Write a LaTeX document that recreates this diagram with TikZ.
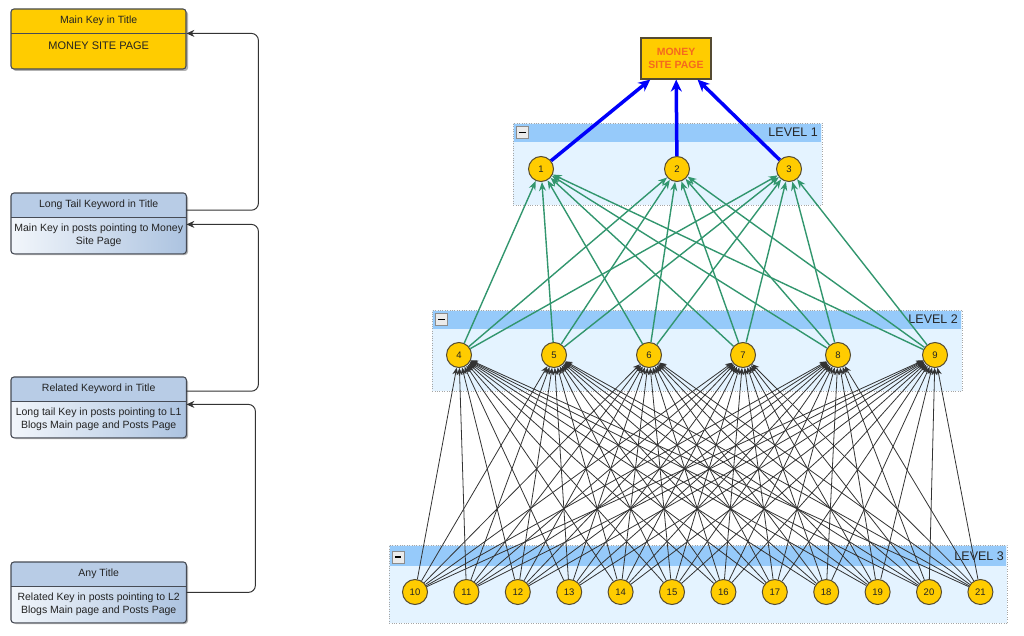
\documentclass[tikz,border=0pt]{standalone}
\usepackage{fontspec}
\setmainfont{Liberation Sans}
\usetikzlibrary{arrows.meta,positioning,backgrounds}
\definecolor{gold}{RGB}{255,204,0}
\definecolor{nodeborder}{RGB}{85,75,50}
\definecolor{textdark}{RGB}{35,35,35}
\definecolor{moneytext}{RGB}{245,105,30}
\definecolor{hdrblue}{RGB}{150,202,250}
\definecolor{bodyblue}{RGB}{228,243,255}
\definecolor{edgegreen}{RGB}{50,150,110}
\definecolor{edgeblue}{RGB}{0,0,250}
\definecolor{ltitlefill}{RGB}{184,204,230}
\definecolor{lbodyleft}{RGB}{242,246,251}
\definecolor{lbodyright}{RGB}{172,195,224}
\definecolor{boxline}{RGB}{70,75,85}
\begin{document}
\begin{tikzpicture}[x=1pt,y=-1pt,
  ltitle/.style={minimum width=175pt, minimum height=24pt, inner sep=0pt, anchor=north west,
    font=\fontsize{10.5}{12}\selectfont, text=textdark},
  lbody/.style={minimum width=175pt, minimum height=36pt, inner sep=0pt, align=center,
    font=\fontsize{10.5}{13}\selectfont, text=textdark},
  boxframe/.style={draw=boxline, line width=1.1pt},
  conn/.style={draw=black!80, line width=1pt, rounded corners=7pt, -{Stealth[length=8pt,width=7pt]}},
  container/.style={draw=black!35, dotted, fill=bodyblue, inner sep=0pt, anchor=north west},
  minusbtn/.style={draw=black!45, fill=black!8, minimum size=12pt, inner sep=0pt},
  levellbl/.style={anchor=east, font=\fontsize{12.5}{14}\selectfont, text=black!85, inner sep=0pt},
  circ/.style={circle, draw=nodeborder, fill=gold, minimum size=25pt, inner sep=0pt, line width=1pt,
    font=\fontsize{9.5}{10}\selectfont, text=textdark},
  moneybox/.style={draw=nodeborder, fill=gold, line width=1.1pt, minimum width=70pt, minimum height=41pt,
    inner sep=0pt, align=center, font=\fontsize{10.5}{12.5}\selectfont\bfseries, text=moneytext},
  greenarrow/.style={draw=edgegreen, line width=1.4pt, -{Stealth[length=9pt,width=7pt]}},
  blackarrow/.style={draw=black!80, line width=0.8pt, -{Stealth[length=7pt,width=6pt]}},
  bluearrow/.style={draw=edgeblue, line width=3.5pt, -{Stealth[length=12pt,width=11pt]}}
]
\useasboundingbox (0,0) rectangle (1024,636);

% ---------------- left legend boxes ----------------
\node[ltitle] (b1t) at (11,9) {Main Key in Title};
\node[lbody, below=0pt of b1t, font=\fontsize{11}{13}\selectfont, yshift=6pt] (b1x) {MONEY SITE PAGE};
\coordinate (b1bse) at (186,69);
\node[ltitle] (b2t) at (11,193) {Long Tail Keyword in Title};
\node[lbody, below=0pt of b2t] (b2b) {Main Key in posts pointing to Money\\Site Page};
\node[ltitle] (b3t) at (11,377) {Related Keyword in Title};
\node[lbody, below=0pt of b3t] (b3b) {Long tail Key in posts pointing to L1\\Blogs Main page and Posts Page};
\node[ltitle] (b4t) at (11,562) {Any Title};
\node[lbody, below=0pt of b4t] (b4b) {Related Key in posts pointing to L2\\Blogs Main page and Posts Page};

\begin{scope}[on background layer]
  % shadows
  \foreach \bx/\by/\bh in {11/9/60, 11/193/60, 11/377/60, 11/562/60}{
    \fill[black!30, rounded corners=3pt] (\bx+2,\by+2) rectangle (\bx+177,\by+\bh+2);
  }
  % box 1 (gold)
  \fill[gold, rounded corners=3pt] (b1t.north west) rectangle (b1bse);
  \draw[boxframe, rounded corners=3pt] (b1t.north west) rectangle (b1bse);
  \draw[boxframe] (b1t.south west) -- (b1t.south east);
  % boxes 2-4 (blue)
  \foreach \bx in {b2,b3,b4}{
    \begin{scope}
      \clip[rounded corners=3pt] (\bx t.north west) rectangle (\bx b.south east);
      \fill[ltitlefill] (\bx t.north west) rectangle (\bx t.south east);
      \shade[left color=lbodyleft, right color=lbodyright] (\bx b.north west) rectangle (\bx b.south east);
    \end{scope}
    \draw[boxframe, rounded corners=3pt] (\bx t.north west) rectangle (\bx b.south east);
    \draw[boxframe] (\bx t.south west) -- (\bx t.south east);
  }

  % ---------------- level containers ----------------
  \node[container, minimum width=309pt, minimum height=82pt] (c1) at (513,123) {};
  \fill[hdrblue] (514,124) rectangle (821,142);
  \node[minusbtn] (m1) at (522.5,132.5) {};
  \draw[line width=1.6pt] ([xshift=3pt]m1.west) -- ([xshift=-3pt]m1.east);
  \node[levellbl] (lv1) at (818,132.5) {LEVEL 1};

  \node[container, minimum width=530pt, minimum height=81pt] (c2) at (432,310) {};
  \fill[hdrblue] (433,311) rectangle (961,329);
  \node[minusbtn] (m2) at (441.5,319.5) {};
  \draw[line width=1.6pt] ([xshift=3pt]m2.west) -- ([xshift=-3pt]m2.east);
  \node[levellbl] (lv2) at (958,319.5) {LEVEL 2};

  \node[container, minimum width=618pt, minimum height=78pt] (c3) at (389,545) {};
  \fill[hdrblue] (390,546) rectangle (1006,566);
  \node[minusbtn] (m3) at (398,557) {};
  \draw[line width=1.6pt] ([xshift=3pt]m3.west) -- ([xshift=-3pt]m3.east);
  \node[levellbl] (lv3) at (1004,556) {LEVEL 3};
\end{scope}

% legend connectors
\draw[conn] ([yshift=-5pt]b2t.east) -| ([xshift=72pt]b1t.south east) -- (b1t.south east);
\draw[conn] ([yshift=-2pt]b3t.east) -| ([xshift=72pt,yshift=-7pt]b2t.south east) -- ([yshift=-7pt]b2t.south east);
\draw[conn] ([yshift=-6pt]b4t.south east) -| ([xshift=69pt,yshift=-3pt]b3t.south east) -- ([yshift=-3pt]b3t.south east);

% ---------------- network ----------------
\node[moneybox] (money) at (676,58.5) {MONEY\\SITE PAGE};

\node[circ] (n1) at (541,169) {1};
\node[circ] (n2) at (677,169) {2};
\node[circ] (n3) at (789,169) {3};

\foreach \i/\x in {4/459,5/554,6/649,7/743,8/838,9/935}{
  \node[circ] (n\i) at (\x,355) {\i};
}
\foreach \i in {10,...,21}{
  \node[circ] (n\i) at ({415+51.4*(\i-10)},592) {\i};
}

\foreach \s in {10,...,21}{
  \foreach \t in {4,...,9}{
    \draw[blackarrow] (n\s) -- (n\t);
  }
}
\foreach \s in {4,...,9}{
  \foreach \t in {1,2,3}{
    \draw[greenarrow] (n\s) -- (n\t);
  }
}
\foreach \s in {1,2,3}{
  \draw[bluearrow] (n\s) -- (money);
}
\end{tikzpicture}
\end{document}
